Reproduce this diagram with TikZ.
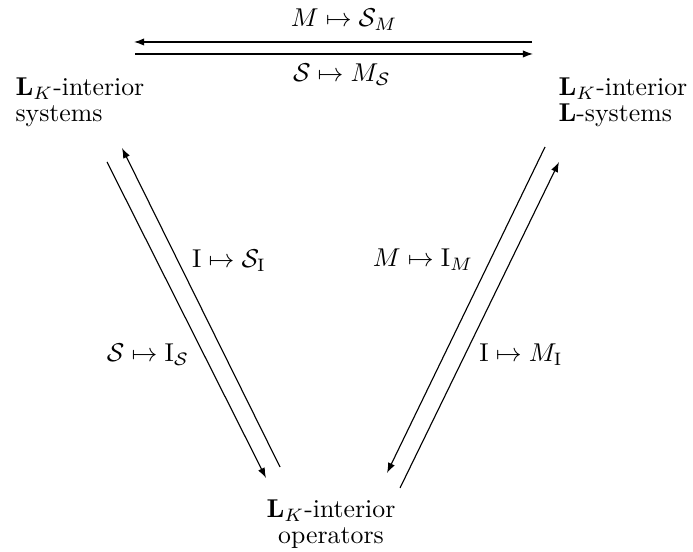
\documentclass[tikz,border=0pt]{standalone}
\usepackage{amsmath,amssymb,graphicx}
\usetikzlibrary{arrows.meta}
\newcommand{\sqz}[1]{\scalebox{0.92}{#1}}
\renewcommand{\arraystretch}{0.84}
\begin{document}
\begin{tikzpicture}[x=0.357pt,y=-0.357pt,
  lbl/.style={inner sep=0pt,anchor=base},
  obj/.style={inner sep=0pt,anchor=north west},
  arr/.style={-{Latex[length=3.6pt,width=2.6pt]},line width=0.4pt}]
\useasboundingbox (0,0) rectangle (693,552);
\node[obj] (sys) at (15,77) {\sqz{\begin{tabular}{@{}l@{}}$\mathbf{L}_K$-interior\\systems\end{tabular}}};
\node[obj] (lsys) at (558,77) {\sqz{\begin{tabular}{@{}l@{}}$\mathbf{L}_K$-interior\\$\mathbf{L}$-systems\end{tabular}}};
\node[inner sep=0pt,anchor=north] (ops) at (331,499) {\sqz{\begin{tabular}{@{}c@{}}$\mathbf{L}_K$-interior\\operators\end{tabular}}};
% top
\coordinate (t1s) at (532,42); \coordinate (t1e) at (134,42);
\coordinate (t2s) at (135,54); \coordinate (t2e) at (533,54);
\draw[arr] (t1s) -- (t1e);
\draw[arr] (t2s) -- (t2e);
\node[lbl] (lMS) at (344,27) {\sqz{$M\mapsto\mathcal{S}_M$}};
\node[lbl] (lSM) at (342,82) {\sqz{$\mathcal{S}\mapsto M_{\mathcal{S}}$}};
% left
\coordinate (l1s) at (107,162); \coordinate (l1e) at (266,478);
\coordinate (l2s) at (280,467); \coordinate (l2e) at (122,148);
\draw[arr] (l1s) -- (l1e);
\draw[arr] (l2s) -- (l2e);
\node[lbl] (lIS) at (229,268) {\sqz{$\mathrm{I}\mapsto\mathcal{S}_{\mathrm{I}}$}};
\node[lbl] (lSI) at (148,362) {\sqz{$\mathcal{S}\mapsto\mathrm{I}_{\mathcal{S}}$}};
% right
\coordinate (r1s) at (545,147); \coordinate (r1e) at (387,473);
\coordinate (r2s) at (400,488); \coordinate (r2e) at (559,162);
\draw[arr] (r1s) -- (r1e);
\draw[arr] (r2s) -- (r2e);
\node[lbl] (lMI) at (423,267) {\sqz{$M\mapsto\mathrm{I}_M$}};
\node[lbl] (lIM) at (521,362) {\sqz{$\mathrm{I}\mapsto M_{\mathrm{I}}$}};
\end{tikzpicture}
\end{document}
